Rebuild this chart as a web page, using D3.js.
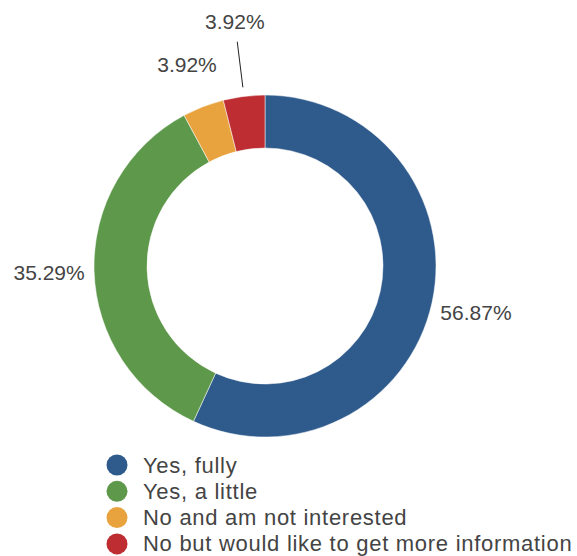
<!DOCTYPE html>
<html>
<head>
<meta charset="utf-8">
<script src="https://cdn.jsdelivr.net/npm/d3@7"></script>
<style>
  html, body { margin: 0; padding: 0; background: #fff; }
  svg { display: block; font-family: "Liberation Sans", Arial, Helvetica, sans-serif; }
</style>
</head>
<body>
<svg id="chart" width="577" height="556"></svg>
<script>
// Survey answers and their shares (percent)
const categories = [
  "Yes, fully",
  "Yes, a little",
  "No and am not interested",
  "No but would like to get more information"
];
const shares = [56.87, 35.29, 3.92, 3.92];
const colors = ["#2e5a8c", "#5e984a", "#e8a33e", "#bd2d32"];

const width = 577, height = 556;
const cx = 265, cy = 266;
const outerR = 171, innerR = 118;
const labelR = 216;      // radius where value labels are centred
const labelFont = 21;
const legendFont = 22;
const textColor = "#444";

const svg = d3.select("#chart");
const data = categories.map((c, i) => ({ name: c, value: shares[i], color: colors[i] }));

const pie = d3.pie().value(d => d.value).sort(null);
const arcs = pie(data);
const arc = d3.arc().innerRadius(innerR).outerRadius(outerR);

const g = svg.append("g").attr("transform", `translate(${cx},${cy})`);

g.selectAll("path.slice")
  .data(arcs)
  .join("path")
  .attr("class", "slice")
  .attr("d", arc)
  .attr("fill", d => d.data.color)
  .attr("stroke", "#fff")
  .attr("stroke-width", 0.5);

// Value labels: centred on a ring outside the donut; a label that collides
// with an earlier one is pushed outward and gets a leader line.
const fmt = d => d.toFixed(2) + "%";
const polar = (a, r) => [r * Math.sin(a), -r * Math.cos(a)];
const placed = [];
const labelH = 17;

arcs.forEach(a => {
  const mid = (a.startAngle + a.endAngle) / 2;
  const txt = fmt(a.data.value);
  const t = g.append("text")
    .attr("text-anchor", "middle")
    .attr("dominant-baseline", "central")
    .attr("font-size", labelFont)
    .attr("fill", textColor)
    .text(txt);
  const w = t.node().getComputedTextLength();
  let r = labelR;
  let [x, y] = polar(mid, r);
  const hits = (px, py) => placed.some(p =>
    Math.abs(p.x - px) < (p.w + w) / 2 && Math.abs(p.y - py) < labelH);
  let moved = false;
  while (hits(x, y)) {
    r += 30;
    [x, y] = polar(mid, r);
    moved = true;
  }
  t.attr("x", x).attr("y", y);
  placed.push({ x, y, w });
  if (moved) {
    const [x1, y1] = polar(mid, outerR + 9);
    const [x2, y2] = polar(mid, r - 20);
    g.append("line")
      .attr("x1", x1).attr("y1", y1)
      .attr("x2", x2).attr("y2", y2)
      .attr("stroke", "#222")
      .attr("stroke-width", 1);
  }
});

// Legend
const legendX = 117, legendY0 = 465, legendStep = 26.3;
const legend = svg.append("g");
const rows = legend.selectAll("g.row")
  .data(data)
  .join("g")
  .attr("class", "row")
  .attr("transform", (d, i) => `translate(${legendX},${legendY0 + i * legendStep})`);
rows.append("circle")
  .attr("r", 10.5)
  .attr("fill", d => d.color);
rows.append("text")
  .attr("x", 26)
  .attr("y", 0)
  .attr("dominant-baseline", "central")
  .attr("font-size", legendFont)
  .attr("letter-spacing", 0.72)
  .attr("fill", textColor)
  .text(d => d.name);
</script>
</body>
</html>
